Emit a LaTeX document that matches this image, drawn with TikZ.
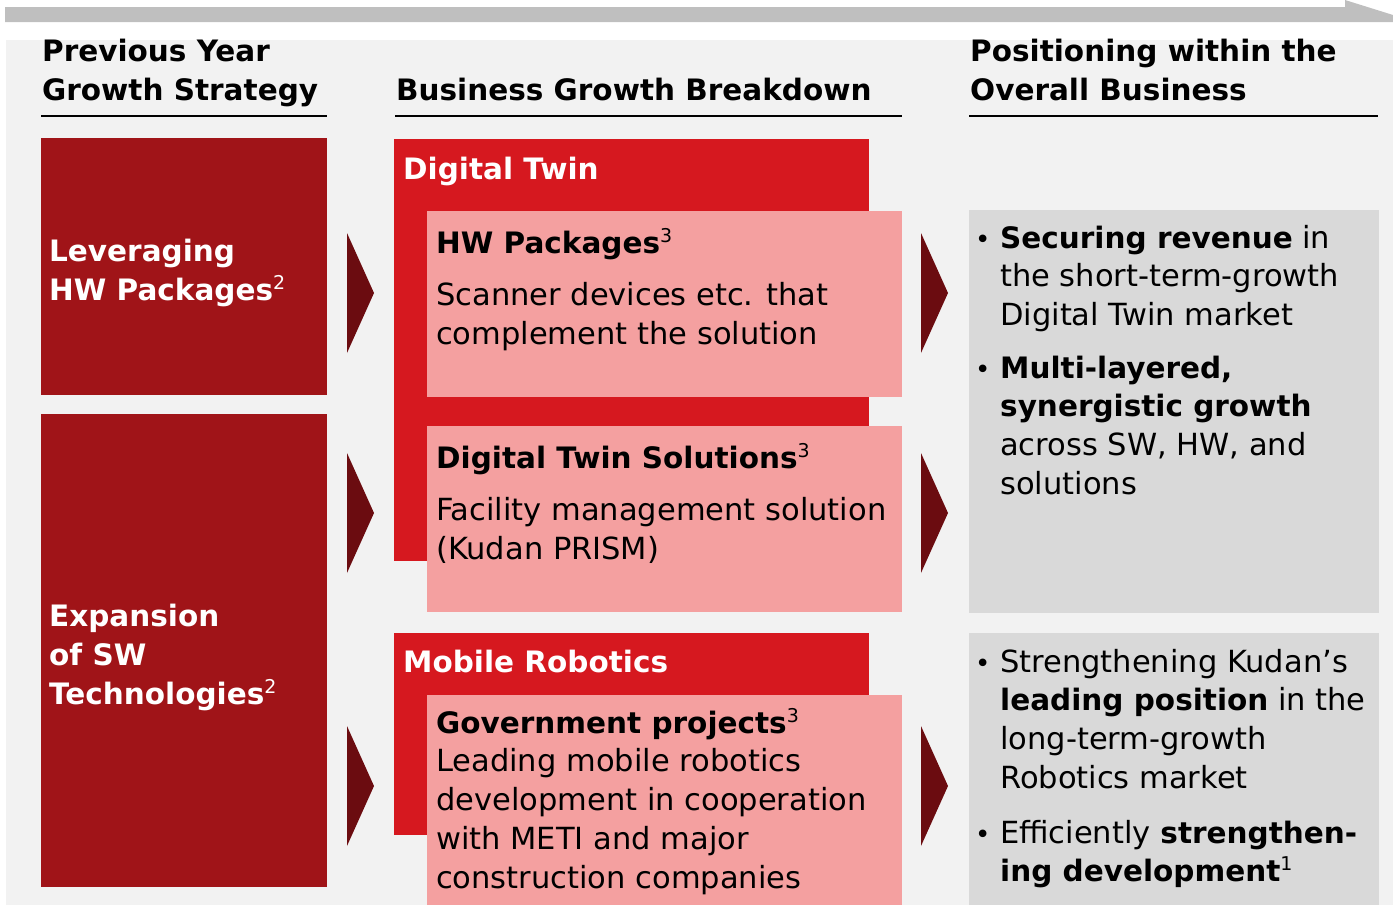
\documentclass[tikz,border=0pt]{standalone}
\usepackage{fontspec}
\setmainfont{DejaVu Sans}
\usetikzlibrary{positioning}

\definecolor{strategyred}{RGB}{160,20,24}
\definecolor{segmentred}{RGB}{214,24,31}
\definecolor{itempink}{RGB}{244,160,160}
\definecolor{chevron}{RGB}{107,12,16}
\definecolor{panelgray}{RGB}{217,217,217}
\definecolor{backgray}{RGB}{242,242,242}
\definecolor{timegray}{RGB}{191,191,191}

\newcommand{\supmark}[1]{\raisebox{0.36em}{\fontsize{19}{19}\selectfont\mdseries #1}}
\newcommand{\hl}[1]{{\fontsize{29.5}{38.7}\selectfont\bfseries #1}}

% multi-line nodes sit on the baseline of their last line
\tikzset{
  txt/.style={anchor=base west, inner sep=0pt, align=left,
    font=\fontsize{30.5}{38.7}\selectfont},
  head/.style={txt, font=\fontsize{29.5}{39}\selectfont\bfseries},
  boxhead/.style={head, text=white},
  itemhead/.style={head, font=\fontsize{29.5}{38.7}\selectfont\bfseries},
  dot/.style={anchor=base west, inner sep=0pt, font=\fontsize{26}{26}\selectfont},
  rule/.style={line width=2.5pt},
  tri/.style={fill=chevron}
}

\begin{document}
\begin{tikzpicture}[x=1pt, y=-1pt]
  \useasboundingbox (0,0) rectangle (1393,905);
  % time arrow and background
  \fill[timegray] (5,7) -- (1345,7) -- (1345,0) -- (1393,15) -- (1393,22) -- (5,22) -- cycle;
  \fill[backgray] (6,40) rectangle (1393,905);

  % column headers
  \node [head] (hprev) at (42,100) {Previous Year\\Growth Strategy};
  \node [head] (hbreak) at (396,100) {Business Growth Breakdown};
  \node [head] (hpos) at (970,100) {Positioning within the\\Overall Business};
  \draw [rule] (41,116) -- (327,116);
  \draw [rule] (395,116) -- (902,116);
  \draw [rule] (969,116) -- (1378,116);

  % previous year strategy
  \fill[strategyred] (41,138) rectangle (327,395);
  \fill[strategyred] (41,414) rectangle (327,887);
  \node [boxhead] (lev) at (49,300) {Leveraging\\HW Packages\supmark{2}};
  \node [boxhead] (expsw) at (49,704) {Expansion\\of SW\\Technologies\supmark{2}};

  % business segments
  \fill[segmentred] (394,139) rectangle (869,561);
  \fill[segmentred] (394,633) rectangle (869,835);
  \fill[itempink] (427,211) rectangle (902,397);
  \fill[itempink] (427,426) rectangle (902,612);
  \fill[itempink] (427,695) rectangle (902,905);
  \node [boxhead] (dt) at (403,179) {Digital Twin};
  \node [boxhead] (mr) at (403,672) {Mobile Robotics};

  \node [itemhead] (hwp) at (436,253) {HW Packages\supmark{3}};
  \node [txt] (hwptxt) at (436,344) {Scanner devices etc. that\\complement the solution};
  \node [itemhead] (dts) at (436,468) {Digital Twin Solutions\supmark{3}};
  \node [txt] (dtstxt) at (436,559) {Facility management solution\\(Kudan PRISM)};
  \node [itemhead] (gov) at (436,733) {Government projects\supmark{3}};
  \node [txt] (govtxt) at (436,888) {Leading mobile robotics\\development in cooperation\\with METI and major\\construction companies};

  % positioning panels
  \fill[panelgray] (969,210) rectangle (1379,613);
  \fill[panelgray] (969,633) rectangle (1379,905);
  \node [dot] (d1) at (975,248) {•};
  \node [txt] (pos1) at (1000,325.4) {\hl{Securing revenue} in\\the short-term-growth\\Digital Twin market};
  \node [dot] (d2) at (975,378) {•};
  \node [txt] (pos2) at (1000,494.1) {\hl{Multi-layered,}\\\hl{synergistic growth}\\across SW, HW, and\\solutions};
  \node [dot] (d3) at (975,672) {•};
  \node [txt] (pos3) at (1000,788.1) {Strengthening Kudan’s\\\hl{leading position} in the\\long-term-growth\\Robotics market};
  \node [dot] (d4) at (975,843) {•};
  \node [txt] (pos4) at (1000,881.7) {Efficiently \hl{strengthen-}\\\hl{ing development}\supmark{1}};

  % chevrons between columns
  \foreach \tx in {347,921}
    \foreach \ty in {293,513,786}
      \fill[tri] (\tx,\ty-60) -- (\tx+27,\ty) -- (\tx,\ty+60) -- cycle;
\end{tikzpicture}
\end{document}
